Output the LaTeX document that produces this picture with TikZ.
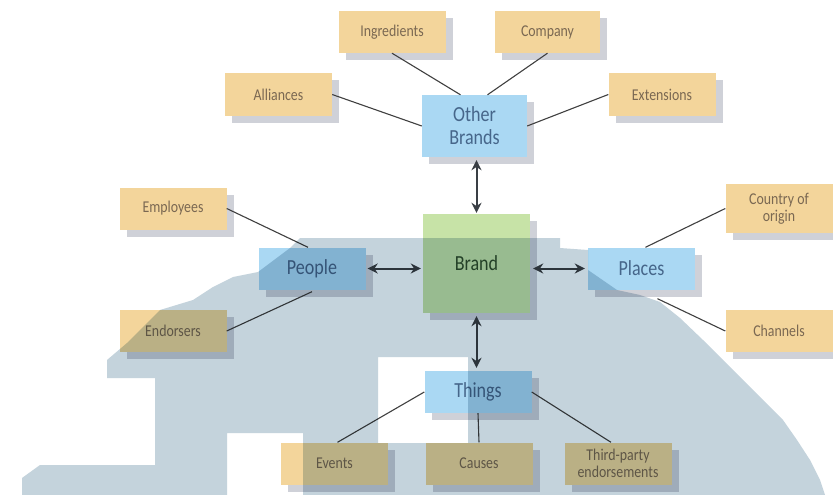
\documentclass[tikz,border=0pt]{standalone}
\usepackage{fontspec}
\setmainfont{Carlito}
\newfontfamily\boxfont[FakeStretch=0.84]{Carlito}
\usetikzlibrary{arrows.meta, shadows}
\definecolor{leaffill}{HTML}{F3D59B}
\definecolor{leaftext}{HTML}{7A6852}
\definecolor{hubfill}{HTML}{AAD8F3}
\definecolor{hubtext}{HTML}{46668A}
\definecolor{brandfill}{HTML}{C7E3A7}
\definecolor{brandtext}{HTML}{2E4E2E}
\definecolor{shade}{HTML}{CFD1D8}
\definecolor{veil}{HTML}{C4D3DC}
\definecolor{arrowdark}{HTML}{3A3F45}
\tikzset{%
  leaf/.style={fill=leaffill, text=leaftext, minimum width=107pt, minimum height=42pt,
               inner sep=2pt, align=center, font=\boxfont\fontsize{16.5}{17}\selectfont,
               drop shadow={shadow xshift=7pt, shadow yshift=-7pt, fill=shade, opacity=1}},
  hub/.style={leaf, fill=hubfill, text=hubtext, font=\boxfont\fontsize{21.5}{23}\selectfont},
  brandbox/.style={hub, fill=brandfill, text=brandtext, minimum height=99pt},
  link/.style={draw=black!75, line width=1.1pt},
  twoway/.style={draw=arrowdark, line width=2pt,
                 {Stealth[length=10pt,width=10pt]}-{Stealth[length=10pt,width=10pt]}},
}

\begin{document}
\begin{tikzpicture}[x=1pt, y=-1pt]
\fill[white] (0,0) rectangle (833,495);
\useasboundingbox (0,0) rectangle (833,495);

% top group
\node[leaf] (ingredients) at (392,32) {Ingredients};
\node[leaf, minimum width=105pt] (company) at (547.5,32) {Company};
\node[leaf] (alliances) at (278.5,94.5) {Alliances};
\node[leaf] (extensions) at (662,94.5) {Extensions};
\node[hub, minimum width=105pt, minimum height=62pt] (other) at (474.5,126) {Other\\Brands};

% middle row
\node[leaf] (employees) at (173,208.5) {Employees};
\node[hub] (people) at (312,268.5) {People};
\node[leaf] (endorsers) at (173,331) {Endorsers};
\node[brandbox] (brand) at (476.5,263.5) {Brand};
\node[hub] (places) at (641.5,268.5) {Places};
\node[leaf, minimum height=49pt] (country) at (779,208.5) {Country of\\origin};
\node[leaf] (channels) at (779,331) {Channels};

% bottom group
\node[hub] (things) at (478,392) {Things};
\node[leaf] (events) at (334.5,463.5) {Events};
\node[leaf] (causes) at (479,463.5) {Causes};
\node[leaf] (thirdparty) at (618,463.5) {Third-party\\endorsements};

% plain links to the hubs
\draw[link] (alliances.east) -- (other.west);
\draw[link] (ingredients.south) -- ([xshift=-14pt]other.north);
\draw[link] (company.south) -- ([xshift=13pt]other.north);
\draw[link] (extensions.west) -- (other.east);
\draw[link] (employees.east) -- ([xshift=-4pt]people.north);
\draw[link] (endorsers.east) -- ([yshift=-2pt]people.south);
\draw[link] (country.west) -- ([xshift=4pt]places.north);
\draw[link] (channels.west) -- ([xshift=16pt,yshift=-9pt]places.south);
\draw[link] (things.west) -- ([xshift=3pt]events.north);
\draw[link] (things.south) -- (causes.north);
\draw[link] (things.east) -- ([xshift=-7pt]thirdparty.north);

% two-way arrows around the brand
\draw[twoway, shorten <=1pt, shorten >=3pt] (brand.north) -- (brand.north |- other.south);
\draw[twoway, shorten <=2pt, shorten >=2pt] (people.east) -- (people.east -| brand.west);
\draw[twoway, shorten <=3pt, shorten >=3pt] (places.west -| brand.east) -- (places.west);
\draw[twoway, shorten <=3pt, shorten >=3pt] (brand.south) -- (brand.south |- things.north);

% pale veil over the lower half
\begin{scope}[blend mode=multiply]
\fill[veil, even odd rule]
  (300,238) -- (560,238) -- (560,248) -- (588,250) -- (588,270) -- (617,290)
  -- (640,295) -- (660,302) -- (680,318) -- (703,340) -- (723,360) -- (743,380)
  -- (763,400) -- (783,420) -- (797,440) -- (810,460) -- (820,480) -- (825,495)
  -- (22,495) -- (22,478) -- (40,465) -- (155,465) -- (155,378) -- (107,378)
  -- (107,360) -- (127,343) -- (160,310) -- (193,300) -- (213,287) -- (233,277)
  -- (258,272) -- (290,248) -- cycle
  (378,357) rectangle (468,443)
  (227,433) rectangle (303,495);
\end{scope}
\end{tikzpicture}
\end{document}
